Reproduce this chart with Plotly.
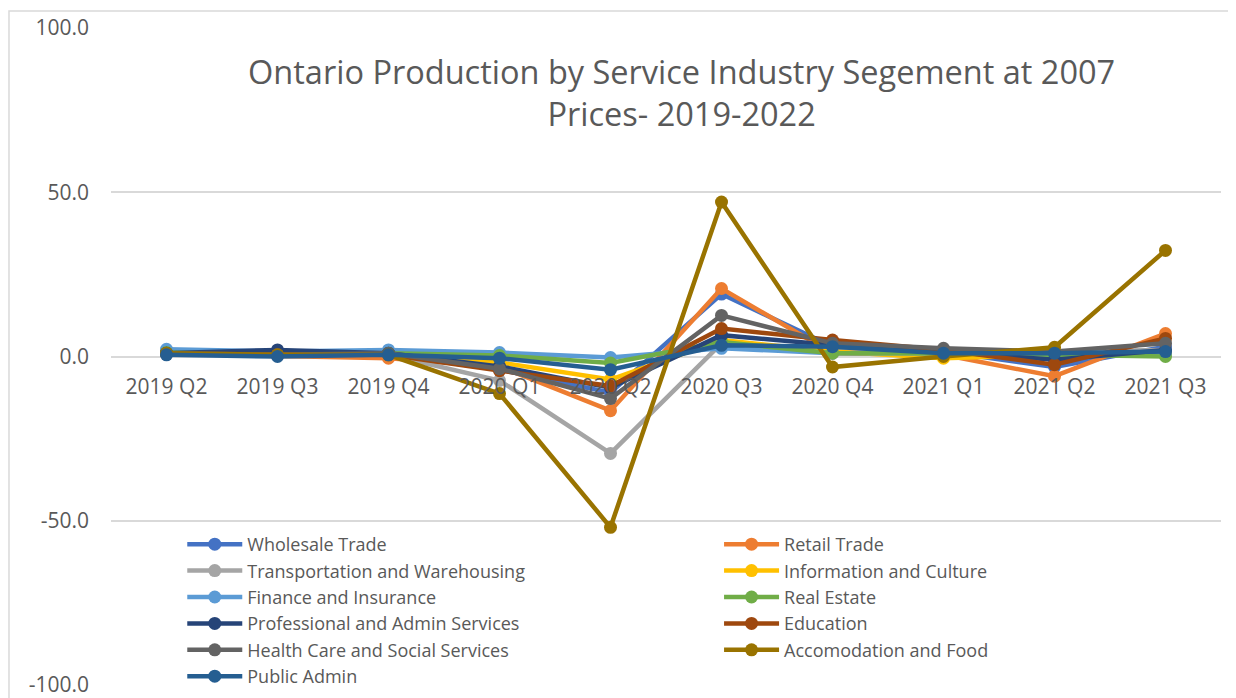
"""
Ontario production by service industry segment, quarterly % change,
redrawn from an Excel line chart with Plotly.
"""

import plotly.graph_objects as go

quarters = ["2019 Q2", "2019 Q3", "2019 Q4", "2020 Q1", "2020 Q2",
            "2020 Q3", "2020 Q4", "2021 Q1", "2021 Q2", "2021 Q3"]

wholesale_trade = [1.0, 0.5, 0.5, -4.0, -11.0, 19.0, 3.0, 1.5, -3.2, 3.0]
retail_trade = [0.8, 0.3, -0.5, -3.0, -16.5, 20.7, 1.0, 0.5, -6.0, 7.0]
transportation = [1.5, 0.5, 0.5, -7.3, -29.5, 4.0, 2.0, 1.0, 1.5, 2.0]
information_culture = [1.0, 0.5, 0.5, -1.8, -7.0, 5.0, 1.5, -0.5, 0.5, 1.0]
finance_insurance = [2.2, 1.5, 2.0, 1.2, -0.3, 2.5, 1.0, 1.0, 0.5, 0.5]
real_estate = [1.2, 0.5, 1.0, 0.3, -2.0, 4.4, 1.0, 1.0, 0.5, 0.0]
professional_admin = [1.0, 2.0, 1.0, -3.0, -9.5, 6.5, 3.5, 1.5, -1.0, 2.0]
education = [0.8, 0.5, 0.5, -4.3, -9.0, 8.5, 5.0, 2.0, -2.5, 5.5]
health_care = [1.0, 0.5, 1.0, -3.7, -12.8, 12.5, 4.0, 2.5, 1.5, 4.0]
accomodation_food = [1.0, 0.5, 0.5, -11.3, -52.0, 47.0, -3.2, 0.0, 2.8, 32.3]
public_admin = [0.5, 0.0, 0.5, -0.5, -4.0, 3.4, 3.0, 1.0, 1.0, 1.5]

y_ticks = [-100, -50, 0, 50, 100]
y_tick_labels = ["-100.0", "-50.0", "0.0", "50.0", "100.0"]

series = [
    ("Wholesale Trade", wholesale_trade, "#4472C4"),
    ("Retail Trade", retail_trade, "#ED7D31"),
    ("Transportation and Warehousing", transportation, "#A5A5A5"),
    ("Information and Culture", information_culture, "#FFC000"),
    ("Finance and Insurance", finance_insurance, "#5B9BD5"),
    ("Real Estate", real_estate, "#70AD47"),
    ("Professional and Admin Services", professional_admin, "#264478"),
    ("Education", education, "#9E480E"),
    ("Health Care and Social Services", health_care, "#636363"),
    ("Accomodation and Food", accomodation_food, "#997300"),
    ("Public Admin", public_admin, "#255E91"),
]

TEXT_GREY = "#595959"
FONT = "Open Sans"

fig = go.Figure()

# Excel fills the legend row by row in two columns: even entries left, odd right
for idx, (name, values, color) in enumerate(series):
    fig.add_trace(go.Scatter(
        x=quarters,
        y=values,
        mode="lines+markers",
        name=name,
        legend="legend" if idx % 2 == 0 else "legend2",
        line=dict(color=color, width=4.5),
        marker=dict(color=color, size=13),
    ))

legend_style = dict(
    orientation="v",
    y=0.242, yanchor="top",
    xanchor="left",
    font=dict(family=FONT, size=18, color=TEXT_GREY),
    bgcolor="rgba(0,0,0,0)",
    itemwidth=55,
    tracegroupgap=0,
)

# the page body adds 8px around the figure, so margins are trimmed by 8 at left/top
fig.update_layout(
    width=1236,
    height=698,
    paper_bgcolor="white",
    plot_bgcolor="white",
    margin=dict(l=103, r=23, t=20, b=21, autoexpand=False),
    font=dict(family=FONT, color=TEXT_GREY),
    title=dict(
        text="Ontario Production by Service Industry Segement at 2007<br>Prices- 2019-2022",
        x=0.545, xanchor="center",
        y=0.891, yanchor="top",
        font=dict(family=FONT, size=32.5, color=TEXT_GREY),
    ),
    legend=dict(x=0.0642, **legend_style),
    legend2=dict(x=0.5478, **legend_style),
    showlegend=True,
)

# category axis crosses the value axis at zero, as in the Excel original;
# categories sit in the middle of equal-width slots
fig.update_xaxes(
    anchor="free",
    position=0.5,
    range=[-0.5, len(quarters) - 0.5],
    showline=False,
    showgrid=False,
    ticks="",
    tickfont=dict(family=FONT, size=21, color=TEXT_GREY),
    ticklabelstandoff=15,
)

fig.update_yaxes(
    range=[-100, 100],
    tickvals=y_ticks,
    ticktext=y_tick_labels,
    showgrid=True,
    gridcolor="#D9D9D9",
    gridwidth=1.5,
    zeroline=False,
    showline=False,
    ticks="",
    tickfont=dict(family=FONT, size=21, color=TEXT_GREY),
    ticklabelstandoff=21,
)

# chart-area border
fig.add_shape(
    type="rect", xref="paper", yref="paper",
    x0=-0.0919, x1=1.05, y0=-0.05, y1=1.026,
    line=dict(color="#D9D9D9", width=1.5),
    layer="below",
)

fig.write_html("out.html")
